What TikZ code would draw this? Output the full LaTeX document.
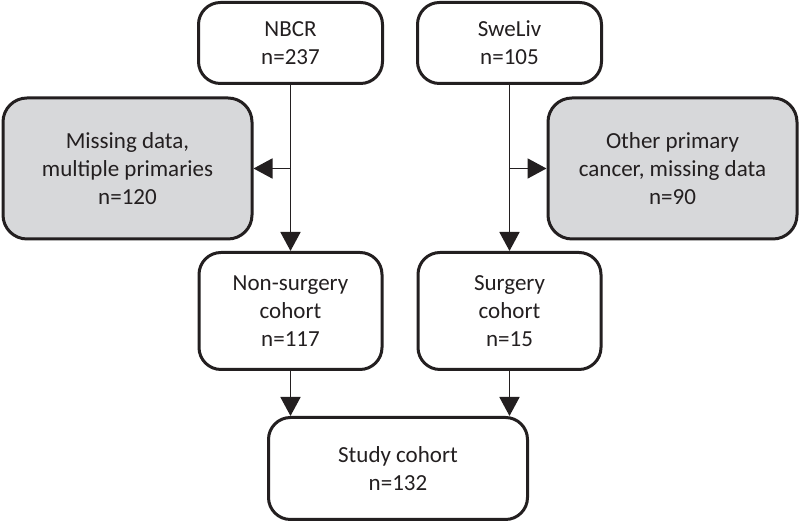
\documentclass[tikz,border=0pt]{standalone}
\usepackage{fontspec}
\setmainfont{Carlito}
\usetikzlibrary{arrows.meta}
\definecolor{boxgray}{HTML}{D7D8DA}
\definecolor{ink}{HTML}{231F20}
\begin{document}
\begin{tikzpicture}[x=0.5pt,y=-0.5pt,
  box/.style={draw=ink,line width=1.5pt,rounded corners=11pt,align=center,
    text=ink,font=\fontsize{11.5}{14}\selectfont,fill=white,inner sep=0pt},
  graybox/.style={box,fill=boxgray,rounded corners=12pt},
  conn/.style={draw=ink,line width=0.9pt,-{Triangle[width=10pt,length=9.5pt]}}]
\useasboundingbox (0,0) rectangle (800,522);
\node[box,minimum width=92pt,minimum height=40.5pt] (nbcr) at (290.5,43) {NBCR\\n=237};
\node[box,minimum width=92pt,minimum height=40.5pt] (swe) at (509.5,43) {SweLiv\\n=105};
\node[graybox,minimum width=124.5pt,minimum height=70.5pt] (gl) at (127.5,168.5) {Missing data,\\multiple primaries\\n=120};
\node[graybox,minimum width=124.5pt,minimum height=70.5pt] (gr) at (672.5,168.5) {Other primary\\cancer, missing data\\n=90};
\node[box,minimum width=91.5pt,minimum height=58.5pt] (ns) at (290.5,311) {Non-surgery\\cohort\\n=117};
\node[box,minimum width=91.5pt,minimum height=58.5pt] (sg) at (509.5,311) {Surgery\\cohort\\n=15};
\node[box,minimum width=129.5pt,minimum height=51pt] (st) at (398,468.5) {Study cohort\\n=132};
\coordinate (bl) at (nbcr.south |- gl.east);
\coordinate (br) at (swe.south |- gr.west);
\draw[conn] (nbcr.south) -- (ns.north);
\draw[conn] (swe.south) -- (sg.north);
\draw[conn] (bl) -- (gl.east);
\draw[conn] (br) -- (gr.west);
\draw[conn] (ns.south) -- (ns.south |- st.north);
\draw[conn] (sg.south) -- (sg.south |- st.north);
\end{tikzpicture}
\end{document}
